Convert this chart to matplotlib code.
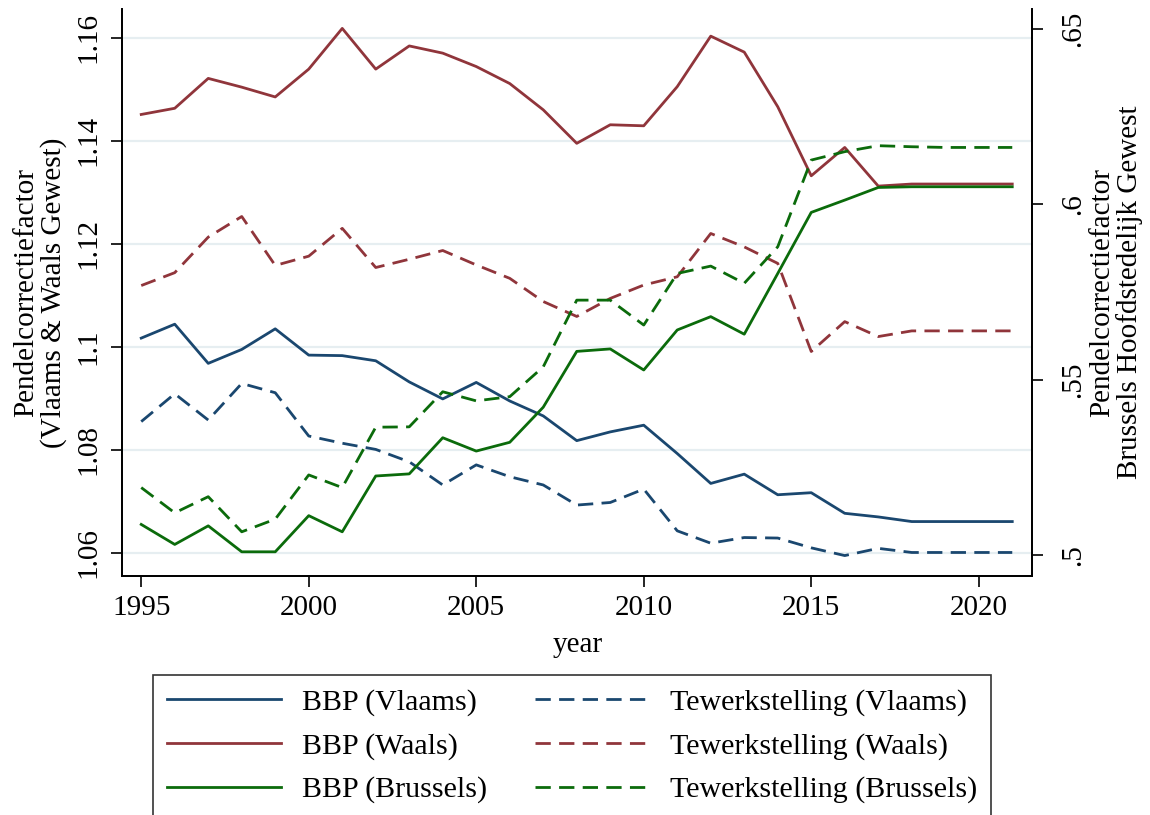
import matplotlib
matplotlib.use("Agg")
import matplotlib.pyplot as plt

plt.rcParams['font.family'] = ['Liberation Serif', 'DejaVu Serif']

years = list(range(1995, 2022))

bbp_vlaams = [1.1017, 1.1044, 1.0968, 1.0995, 1.1035, 1.0984, 1.0983, 1.0973, 1.0932, 1.0899,
              1.0931, 1.0895, 1.0866, 1.0818, 1.0835, 1.0848, 1.0793, 1.0735, 1.0753, 1.0713,
              1.0717, 1.0677, 1.0670, 1.0661, 1.0661, 1.0661, 1.0661]
tew_vlaams = [1.0855, 1.0909, 1.0858, 1.0929, 1.0911, 1.0827, 1.0813, 1.0801, 1.0777, 1.0732,
              1.0771, 1.0748, 1.0732, 1.0693, 1.0698, 1.0724, 1.0643, 1.0619, 1.0630, 1.0629,
              1.0610, 1.0595, 1.0609, 1.0601, 1.0601, 1.0601, 1.0601]
bbp_waals = [1.1451, 1.1463, 1.1521, 1.1504, 1.1485, 1.1539, 1.1618, 1.1539, 1.1584, 1.1570,
             1.1544, 1.1511, 1.1460, 1.1395, 1.1431, 1.1429, 1.1505, 1.1603, 1.1572, 1.1466,
             1.1332, 1.1387, 1.1312, 1.1316, 1.1316, 1.1316, 1.1316]
tew_waals = [1.1119, 1.1144, 1.1213, 1.1253, 1.1158, 1.1176, 1.1230, 1.1154, 1.1170, 1.1187,
             1.1159, 1.1133, 1.1088, 1.1059, 1.1094, 1.1120, 1.1136, 1.1220, 1.1194, 1.1162,
             1.0991, 1.1049, 1.1020, 1.1031, 1.1031, 1.1031, 1.1031]
bbp_brussels = [0.5088, 0.5031, 0.5084, 0.5010, 0.5010, 0.5113, 0.5067, 0.5226, 0.5232, 0.5335,
                0.5297, 0.5322, 0.5422, 0.5581, 0.5588, 0.5528, 0.5642, 0.5680, 0.5630, 0.5803,
                0.5977, 0.6012, 0.6048, 0.6050, 0.6050, 0.6050, 0.6050]
tew_brussels = [0.5193, 0.5121, 0.5167, 0.5067, 0.5103, 0.5229, 0.5193, 0.5365, 0.5366, 0.5466,
                0.5440, 0.5452, 0.5537, 0.5727, 0.5727, 0.5656, 0.5803, 0.5824, 0.5775, 0.5879,
                0.6126, 0.6150, 0.6167, 0.6164, 0.6162, 0.6162, 0.6162]

left_ticks = [1.06, 1.08, 1.10, 1.12, 1.14, 1.16]
left_ticklabels = ['1.06', '1.08', '1.1', '1.12', '1.14', '1.16']
right_ticks = [0.50, 0.55, 0.60, 0.65]
right_ticklabels = ['.5', '.55', '.6', '.65']
x_ticks = [1995, 2000, 2005, 2010, 2015, 2020]

labels = ['BBP (Vlaams)', 'BBP (Waals)', 'BBP (Brussels)',
          'Tewerkstelling (Vlaams)', 'Tewerkstelling (Waals)', 'Tewerkstelling (Brussels)']

c_blue = '#1a476f'
c_red = '#90353b'
c_green = '#0b6b0b'
FS = 21
LW = 2.0
DASH = (5.5, 3.0)

fig = plt.figure(figsize=(11.5, 8.15), dpi=100)
ax = fig.add_axes([0.1065, 0.2936, 0.8977 - 0.1065, 0.9886 - 0.2936])
ax2 = ax.twinx()

for y in left_ticks:
    ax.axhline(y, color='#e6eef1', lw=1.6, zorder=0)

h1, = ax.plot(years, bbp_vlaams, color=c_blue, lw=LW)
h2, = ax.plot(years, bbp_waals, color=c_red, lw=LW)
h4, = ax.plot(years, tew_vlaams, color=c_blue, lw=LW, dashes=DASH)
h5, = ax.plot(years, tew_waals, color=c_red, lw=LW, dashes=DASH)
h3, = ax2.plot(years, bbp_brussels, color=c_green, lw=LW)
h6, = ax2.plot(years, tew_brussels, color=c_green, lw=LW, dashes=DASH)

ax.set_xlim(1994.44, 2021.6)
ax.set_ylim(1.05559, 1.16551)
ax2.set_ylim(0.49419, 0.65556)

ax.set_xticks(x_ticks)
ax.set_xticklabels([str(t) for t in x_ticks], fontsize=FS)
ax.set_yticks(left_ticks)
ax.set_yticklabels(left_ticklabels, fontsize=FS, rotation=90, va='center')
ax2.set_yticks(right_ticks)
ax2.set_yticklabels(right_ticklabels, fontsize=FS, rotation=90, va='center')

for a in (ax, ax2):
    a.tick_params(axis='both', length=8, width=1.2, color='black', pad=6)
    a.spines['top'].set_visible(False)
    for s in ('left', 'right', 'bottom'):
        a.spines[s].set_linewidth(1.3)
ax.tick_params(axis='y', pad=7)
ax2.tick_params(axis='y', pad=12)

ax.set_xlabel('year', fontsize=FS, labelpad=8)
ax.set_ylabel('Pendelcorrectiefactor\n(Vlaams & Waals Gewest)', fontsize=FS,
              linespacing=1.05, labelpad=6)
ax2.set_ylabel('Pendelcorrectiefactor\nBrussels Hoofdstedelijk Gewest', fontsize=FS,
               rotation=90, linespacing=1.05, labelpad=2)

leg = fig.legend([h1, h2, h3, h4, h5, h6], labels, ncol=2, loc='upper center',
                 bbox_to_anchor=(572 / 1150, 1 - 675 / 815), fontsize=21.6,
                 frameon=True, fancybox=False, edgecolor='black', borderaxespad=0,
                 handlelength=3.8, handletextpad=0.7, columnspacing=1.6,
                 labelspacing=0.55, borderpad=0.45)
leg.get_frame().set_linewidth(1.2)

fig.savefig('out.png', dpi=100)
